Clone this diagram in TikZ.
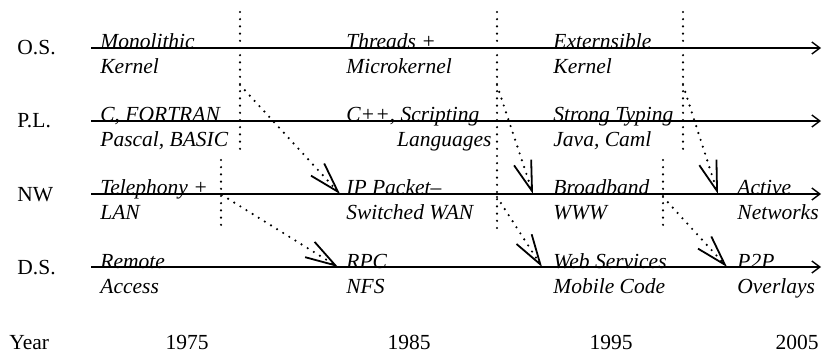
\documentclass[tikz,border=0pt]{standalone}
\usepackage{fontspec}
\setmainfont{Liberation Serif}
\usetikzlibrary{arrows.meta}
\begin{document}
\begin{tikzpicture}[x=0.5pt, y=-0.5pt,
    every node/.style={inner sep=0pt, font=\fontsize{10.75}{13}\selectfont},
    row/.style={anchor=base west},
    item/.style={anchor=base west, font=\fontsize{10.75}{13}\selectfont\itshape},
    axis/.style={line width=0.7pt, -{Straight Barb[length=4pt,width=6pt]}},
    dotline/.style={line width=1.2pt, line cap=round, dash pattern=on 0pt off 3.6pt},
    dotarrow/.style={dotline, -{Straight Barb[length=15pt,width=9pt,line width=0.9pt]}}]
  \useasboundingbox (0,0) rectangle (823,352);
  \node[row] (os) at (17,55) {O.S.};
  \node[row] (pl) at (17,128) {P.L.};
  \node[row] (nw) at (17,201) {NW};
  \node[row] (ds) at (17,274) {D.S.};
  \node[row] (year) at (9,349) {Year};
  \coordinate (osL) at (91,48);
  \coordinate (osR) at (821,48);
  \coordinate (plL) at (91,121);
  \coordinate (plR) at (821,121);
  \coordinate (nwL) at (91,194);
  \coordinate (nwR) at (821,194);
  \coordinate (dsL) at (91,267);
  \coordinate (dsR) at (821,267);
  \draw[axis] (osL) -- (osR);
  \draw[axis] (plL) -- (plR);
  \draw[axis] (nwL) -- (nwR);
  \draw[axis] (dsL) -- (dsR);
  \node[item] (mono) at (100,49) {Monolithic};
  \node[item] (kern1) at (100,74) {Kernel};
  \node[item] (threads) at (346,49) {Threads +};
  \node[item] (micro) at (346,74) {Microkernel};
  \node[item] (ext) at (553,49) {Externsible};
  \node[item] (kern2) at (553,74) {Kernel};
  \node[item] (fortran) at (100,122) {C, FORTRAN};
  \node[item] (pascal) at (100,147) {Pascal, BASIC};
  \node[item] (cpp) at (346,122) {C++, Scripting};
  \node[item, anchor=base east] (lang) at (492,147) {Languages};
  \node[item] (strong) at (553,122) {Strong Typing};
  \node[item] (java) at (553,147) {Java, Caml};
  \node[item] (tel) at (100,195) {Telephony +};
  \node[item] (lan) at (100,220) {LAN};
  \node[item] (ip) at (346,195) {IP Packet--};
  \node[item] (wan) at (346,220) {Switched WAN};
  \node[item] (broad) at (553,195) {Broadband};
  \node[item] (www) at (553,220) {WWW};
  \node[item] (active) at (737,195) {Active};
  \node[item] (netw) at (737,220) {Networks};
  \node[item] (remote) at (100,268) {Remote};
  \node[item] (access) at (100,293) {Access};
  \node[item] (rpc) at (346,268) {RPC};
  \node[item] (nfs) at (346,293) {NFS};
  \node[item] (web) at (553,268) {Web Services};
  \node[item] (mobile) at (553,293) {Mobile Code};
  \node[item] (p2p) at (737,268) {P2P};
  \node[item] (overlay) at (737,293) {Overlays};
  \node[anchor=base] (y75) at (187,349) {1975};
  \node[anchor=base] (y85) at (409,349) {1985};
  \node[anchor=base] (y95) at (611,349) {1995};
  \node[anchor=base] (y05) at (797,349) {2005};
  \coordinate (v1t) at (240,12);
  \coordinate (v1b) at (240,156);
  \coordinate (v2t) at (221,160);
  \coordinate (v2b) at (221,229);
  \coordinate (v3t) at (497,12);
  \coordinate (v3b) at (497,229);
  \coordinate (v4t) at (683,12);
  \coordinate (v4b) at (683,156);
  \coordinate (v6t) at (663,160);
  \coordinate (v6b) at (663,229);
  \draw[dotline] (v1t) -- (v1b);
  \draw[dotline] (v2t) -- (v2b);
  \draw[dotline] (v3t) -- (v3b);
  \draw[dotline] (v4t) -- (v4b);
  \draw[dotline] (v6t) -- (v6b);
  \coordinate (a1) at (240,85);
  \coordinate (a2) at (222,195);
  \coordinate (a3) at (497,85);
  \coordinate (a4) at (683,85);
  \coordinate (a5) at (497,197);
  \coordinate (a6) at (663,197);
  \coordinate (t1) at (340,194);
  \coordinate (t2) at (338,267);
  \coordinate (t3) at (533,194);
  \coordinate (t4) at (718,194);
  \coordinate (t5) at (542,267);
  \coordinate (t6) at (727,267);
  \draw[dotarrow] (a1) -- (t1);
  \draw[dotarrow] (a2) -- (t2);
  \draw[dotarrow] (a3) -- (t3);
  \draw[dotarrow] (a4) -- (t4);
  \draw[dotarrow] (a5) -- (t5);
  \draw[dotarrow] (a6) -- (t6);
\end{tikzpicture}
\end{document}
